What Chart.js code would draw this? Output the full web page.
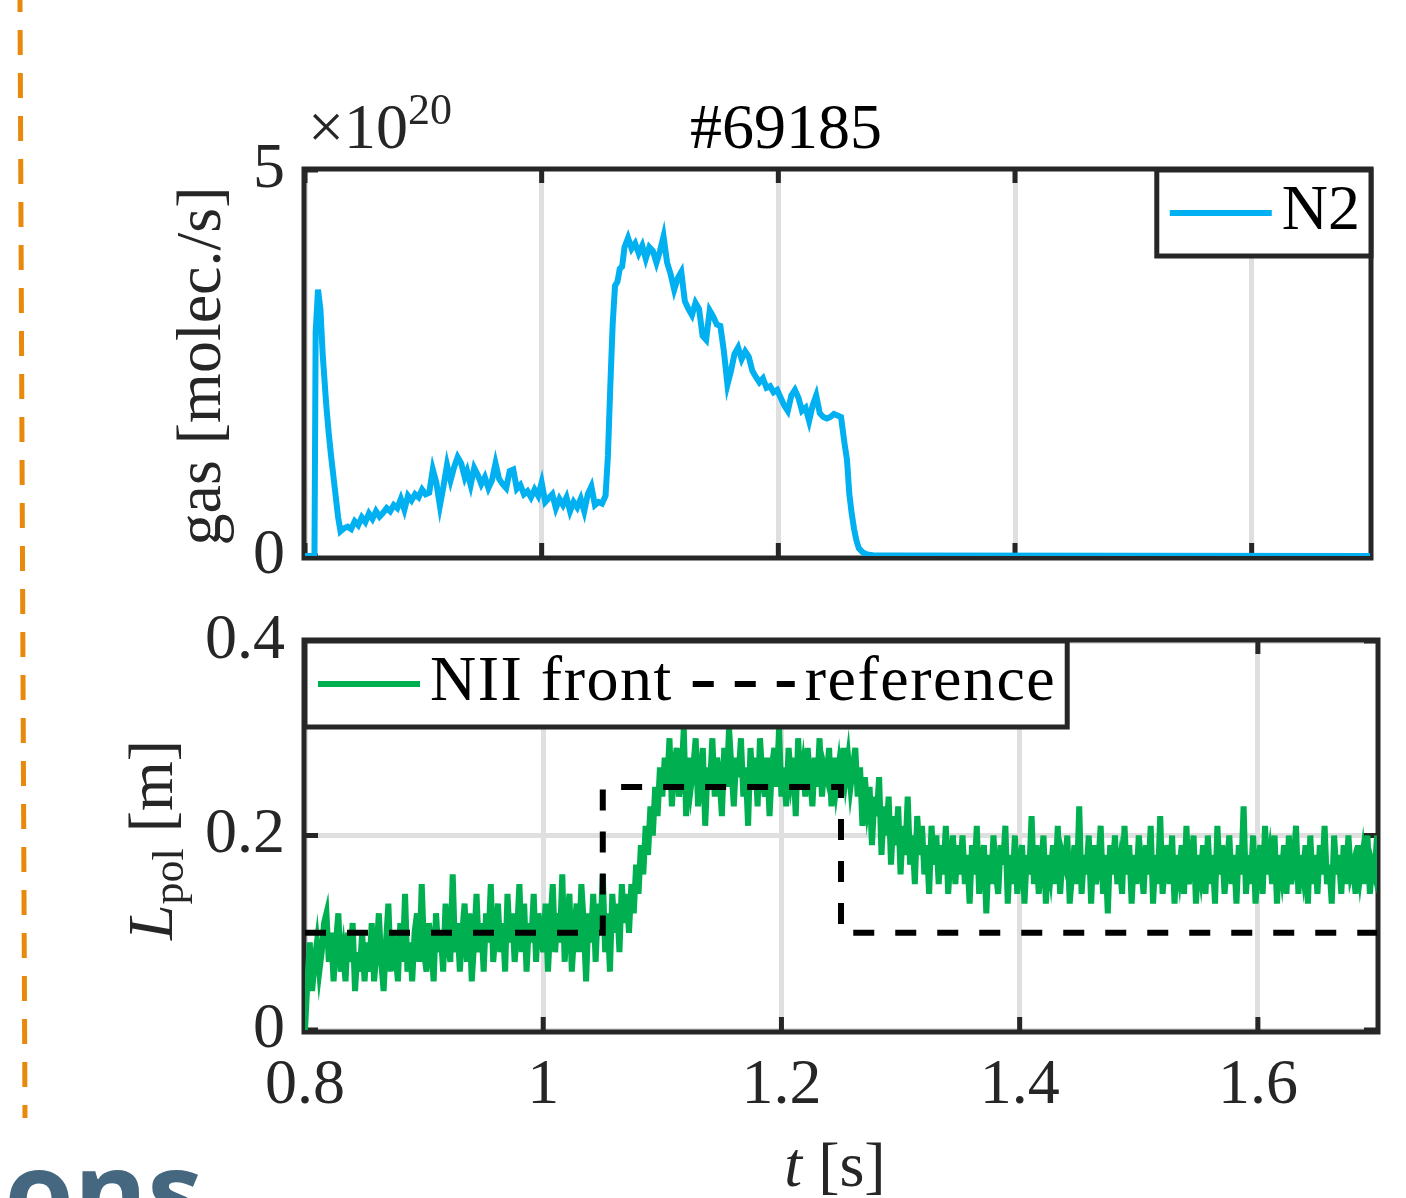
<!DOCTYPE html>
<html>
<head>
<meta charset="utf-8">
<script src="https://cdn.jsdelivr.net/npm/chart.js@4.4.1/dist/chart.umd.min.js"></script>
<style>
  html, body { margin: 0; padding: 0; background: #fff; overflow: hidden; }
  #wrap { position: relative; width: 1406px; height: 1198px; }
  #wrap canvas { position: absolute; left: 0; top: 0; }
</style>
</head>
<body>
<div id="wrap">
  <canvas id="gasChart" width="1406" height="1198"></canvas>
  <canvas id="lpolChart" width="1406" height="1198"></canvas>
</div>
<script>
// ---- data ----
const shotTitle = '#69185';

const xTicks = [0.8, 1.0, 1.2, 1.4, 1.6];
const xTickLabels = ['0.8', '1', '1.2', '1.4', '1.6'];
const gasTicks = [0, 5];
const gasTickLabels = ['0', '5'];
const lpolTicks = [0, 0.2, 0.4];
const lpolTickLabels = ['0', '0.2', '0.4'];

// N2 puff rate [1e20 molec./s]
const n2Time = [
  0.800, 0.808, 0.809, 0.811, 0.813, 0.815, 0.818, 0.820, 0.822, 0.825,
  0.828, 0.830, 0.833, 0.836, 0.839, 0.842, 0.845, 0.848, 0.851, 0.854,
  0.857, 0.860, 0.863, 0.866, 0.869, 0.872, 0.875, 0.878, 0.881, 0.884,
  0.887, 0.890, 0.893, 0.896, 0.899, 0.902, 0.905, 0.908, 0.911, 0.914,
  0.917, 0.920, 0.923, 0.926, 0.929, 0.932, 0.935, 0.937, 0.940, 0.943,
  0.946, 0.949, 0.952, 0.955, 0.958, 0.961, 0.964, 0.967, 0.970, 0.973,
  0.976, 0.979, 0.982, 0.985, 0.988, 0.991, 0.994, 0.997, 1.000, 1.003,
  1.006, 1.009, 1.012, 1.015, 1.018, 1.021, 1.024, 1.027, 1.030, 1.033,
  1.036, 1.039, 1.042, 1.045, 1.048, 1.051, 1.054, 1.056, 1.058, 1.060,
  1.062, 1.064, 1.066, 1.068, 1.070, 1.073, 1.076, 1.079, 1.082, 1.085,
  1.088, 1.091, 1.094, 1.097, 1.100, 1.103, 1.106, 1.109, 1.112, 1.115,
  1.118, 1.121, 1.124, 1.127, 1.130, 1.133, 1.136, 1.139, 1.142, 1.145,
  1.148, 1.151, 1.154, 1.157, 1.160, 1.163, 1.166, 1.169, 1.172, 1.175,
  1.178, 1.181, 1.184, 1.187, 1.190, 1.193, 1.196, 1.199, 1.202, 1.205,
  1.208, 1.211, 1.214, 1.217, 1.220, 1.223, 1.226, 1.229, 1.232, 1.235,
  1.238, 1.241, 1.244, 1.247, 1.250, 1.253, 1.256, 1.258, 1.260, 1.262,
  1.264, 1.266, 1.268, 1.271, 1.275, 1.280, 1.300, 1.700
];
const n2Values = [
  0.00, 0.00, 2.90, 3.45, 3.20, 2.60, 1.95, 1.60, 1.30, 0.90,
  0.50, 0.32, 0.36, 0.38, 0.35, 0.45, 0.40, 0.50, 0.44, 0.55,
  0.48, 0.58, 0.51, 0.56, 0.62, 0.58, 0.66, 0.62, 0.74, 0.60,
  0.78, 0.72, 0.80, 0.76, 0.86, 0.80, 0.82, 1.12, 0.95, 0.65,
  0.90, 1.18, 0.98, 1.15, 1.28, 1.20, 1.02, 1.10, 0.92, 1.14,
  1.05, 0.93, 1.02, 0.88, 0.98, 1.20, 1.00, 0.93, 0.88, 1.10,
  1.12, 0.87, 0.92, 0.80, 0.84, 0.76, 0.86, 0.78, 0.95, 0.70,
  0.75, 0.80, 0.62, 0.74, 0.66, 0.76, 0.58, 0.70, 0.63, 0.74,
  0.58, 0.80, 0.90, 0.66, 0.70, 0.68, 0.78, 1.30, 2.20, 3.00,
  3.50, 3.55, 3.72, 3.75, 4.00, 4.12, 3.98, 4.05, 3.92, 4.02,
  3.85, 4.00, 3.95, 3.80, 3.95, 4.14, 3.80, 3.65, 3.45, 3.60,
  3.68, 3.30, 3.20, 3.12, 3.28, 3.20, 2.85, 2.80, 3.18, 3.10,
  3.00, 2.98, 2.65, 2.22, 2.40, 2.62, 2.70, 2.55, 2.65, 2.58,
  2.40, 2.32, 2.25, 2.30, 2.18, 2.20, 2.12, 2.15, 2.05, 1.95,
  1.88, 2.08, 2.15, 2.05, 1.88, 1.92, 1.75, 1.95, 2.08, 1.85,
  1.80, 1.78, 1.80, 1.84, 1.82, 1.80, 1.45, 1.25, 0.80, 0.55,
  0.35, 0.20, 0.10, 0.05, 0.02, 0.01, 0.005, 0.00
];

// NII front position L_pol [m], sampled every 2 ms from 0.8 s to 1.7 s
const niiStart = 0.8;
const niiStep = 0.002;
const niiValues = [
  // 0.800 - 0.850
  0.00, 0.05, 0.09, 0.04, 0.07, 0.09, 0.06, 0.08, 0.11, 0.12,
  0.07, 0.10, 0.05, 0.09, 0.12, 0.06, 0.08, 0.05, 0.10, 0.07,
  0.11, 0.04, 0.08, 0.06, 0.10, 0.05,
  // 0.852 - 1.000
  0.09, 0.06, 0.11, 0.05, 0.08, 0.12, 0.07, 0.04, 0.09, 0.13,
  0.06, 0.10, 0.08, 0.05, 0.11, 0.07, 0.14, 0.06, 0.09, 0.05,
  0.10, 0.12, 0.07, 0.15, 0.08, 0.06, 0.11, 0.09, 0.05, 0.12,
  0.08, 0.10, 0.06, 0.13, 0.09, 0.07, 0.16, 0.08, 0.11, 0.06,
  0.10, 0.13, 0.07, 0.12, 0.05, 0.09, 0.14, 0.08, 0.11, 0.06,
  0.12, 0.09, 0.15, 0.07, 0.10, 0.13, 0.08, 0.11, 0.06, 0.14,
  0.09, 0.12, 0.07, 0.10, 0.15, 0.08, 0.13, 0.06, 0.11, 0.09,
  0.14, 0.07, 0.12, 0.10, 0.08,
  // 1.002 - 1.070
  0.13, 0.06, 0.11, 0.15, 0.08, 0.12, 0.09, 0.16, 0.07, 0.11,
  0.14, 0.06, 0.10, 0.13, 0.08, 0.15, 0.11, 0.05, 0.12, 0.09,
  0.14, 0.07, 0.13, 0.10, 0.16, 0.08, 0.12, 0.06, 0.14, 0.10,
  0.13, 0.08, 0.15, 0.11, 0.14,
  // 1.072 - 1.100
  0.10, 0.15, 0.12, 0.17, 0.14, 0.19, 0.16, 0.21, 0.18, 0.23,
  0.20, 0.25, 0.22, 0.27, 0.24,
  // 1.102 - 1.260
  0.28, 0.25, 0.30, 0.23, 0.27, 0.29, 0.24, 0.26, 0.31, 0.22,
  0.28, 0.25, 0.27, 0.30, 0.23, 0.26, 0.29, 0.21, 0.27, 0.25,
  0.30, 0.24, 0.28, 0.26, 0.22, 0.29, 0.25, 0.31, 0.27, 0.23,
  0.28, 0.26, 0.30, 0.24, 0.27, 0.21, 0.29, 0.25, 0.28, 0.23,
  0.30, 0.26, 0.24, 0.28, 0.22, 0.27, 0.29, 0.25, 0.31, 0.24,
  0.27, 0.23, 0.29, 0.26, 0.28, 0.22, 0.30, 0.25, 0.27, 0.24,
  0.29, 0.26, 0.23, 0.28, 0.25, 0.30, 0.24, 0.27, 0.26, 0.29,
  0.23, 0.28, 0.25, 0.27, 0.24, 0.29, 0.26, 0.28, 0.25, 0.27,
  // 1.262 - 1.350
  0.29, 0.24, 0.27, 0.21, 0.26, 0.23, 0.25, 0.19, 0.24, 0.22,
  0.26, 0.18, 0.23, 0.20, 0.24, 0.17, 0.22, 0.19, 0.23, 0.16,
  0.21, 0.18, 0.24, 0.17, 0.20, 0.15, 0.22, 0.18, 0.21, 0.16,
  0.19, 0.14, 0.21, 0.17, 0.20, 0.15, 0.19, 0.16, 0.21, 0.14,
  0.18, 0.20, 0.15, 0.19, 0.16,
  // 1.352 - 1.700
  0.20, 0.15, 0.18, 0.13, 0.19, 0.16, 0.21, 0.14, 0.17, 0.19,
  0.12, 0.18, 0.15, 0.20, 0.16, 0.14, 0.19, 0.17, 0.21, 0.13,
  0.18, 0.15, 0.20, 0.14, 0.17, 0.19, 0.13, 0.18, 0.16, 0.22,
  0.15, 0.19, 0.14, 0.17, 0.20, 0.13, 0.18, 0.16, 0.19, 0.15,
  0.21, 0.14, 0.18, 0.17, 0.20, 0.13, 0.16, 0.19, 0.15, 0.23,
  0.14, 0.18, 0.16, 0.20, 0.13, 0.19, 0.15, 0.17, 0.21, 0.14,
  0.18, 0.12, 0.19, 0.16, 0.20, 0.15, 0.17, 0.14, 0.21, 0.16,
  0.19, 0.13, 0.18, 0.15, 0.20, 0.17, 0.14, 0.19, 0.16, 0.21,
  0.13, 0.18, 0.15, 0.22, 0.14, 0.17, 0.19, 0.15, 0.20, 0.13,
  0.18, 0.16, 0.19, 0.14, 0.21, 0.15, 0.17, 0.20, 0.13, 0.18,
  0.16, 0.19, 0.14, 0.20, 0.15, 0.18, 0.13, 0.21, 0.16, 0.19,
  0.14, 0.17, 0.20, 0.15, 0.18, 0.13, 0.19, 0.16, 0.23, 0.14,
  0.18, 0.15, 0.20, 0.13, 0.17, 0.19, 0.14, 0.21, 0.16, 0.18,
  0.15, 0.20, 0.13, 0.18, 0.16, 0.19, 0.14, 0.20, 0.15, 0.17,
  0.21, 0.14, 0.18, 0.16, 0.19, 0.13, 0.20, 0.15, 0.18, 0.14,
  0.19, 0.16, 0.21, 0.15, 0.17, 0.13, 0.20, 0.16, 0.18, 0.14,
  0.19, 0.15, 0.20, 0.16, 0.17, 0.14, 0.19, 0.16, 0.18, 0.15,
  0.20, 0.14, 0.17, 0.16, 0.20
];

// reference (setpoint) steps
const refTime = [0.8, 1.05, 1.05, 1.25, 1.25, 1.7];
const refValues = [0.1, 0.1, 0.25, 0.25, 0.1, 0.1];

// ---- styling ----
const serif = '"Liberation Serif", "DejaVu Serif", serif';
const axisColor = '#262626';
const gridColor = '#dfdfdf';
const fontSize = 64;
const subSize = 44;

Chart.defaults.font.family = serif;
Chart.defaults.color = axisColor;

function pts(xs, ys) {
  return ys.map((v, i) => ({ x: xs[i], y: v }));
}
const niiPoints = niiValues.map((v, i) => ({ x: niiStart + i * niiStep, y: v }));

function fixTicks(list) {
  return function(scale) { scale.ticks = list.map(v => ({ value: v })); };
}

// draw a run of text pieces (normal / italic / subscript) starting at x,y
function drawPieces(ctx, pieces, x, y, align) {
  let total = 0;
  pieces.forEach(p => { ctx.font = p.font; p.w = ctx.measureText(p.text).width; total += p.w; });
  let cx = align === 'center' ? x - total / 2 : x;
  ctx.textAlign = 'left';
  ctx.textBaseline = 'alphabetic';
  pieces.forEach(p => {
    ctx.font = p.font;
    ctx.fillText(p.text, cx, y + (p.dy || 0));
    cx += p.w;
  });
}

// frame + inward tick marks, drawn under the lines
const axesBox = {
  id: 'axesBox',
  beforeDatasetsDraw(chart) {
    const { ctx, chartArea: a, scales: { x, y } } = chart;
    ctx.save();
    ctx.strokeStyle = axisColor;
    ctx.lineWidth = 5;
    ctx.setLineDash([]);
    ctx.beginPath();
    x.ticks.forEach(t => {
      const px = x.getPixelForValue(t.value);
      ctx.moveTo(px, a.bottom); ctx.lineTo(px, a.bottom - 13);
      ctx.moveTo(px, a.top); ctx.lineTo(px, a.top + 13);
    });
    y.ticks.forEach(t => {
      const py = y.getPixelForValue(t.value);
      ctx.moveTo(a.left, py); ctx.lineTo(a.left + 13, py);
      ctx.moveTo(a.right, py); ctx.lineTo(a.right - 13, py);
    });
    ctx.stroke();
    ctx.strokeRect(a.left - 1, a.top - 1, a.right - a.left + 2, a.bottom - a.top + 3);
    ctx.restore();
  }
};

// boxed legend inside the axes, like the MATLAB one
const boxLegend = {
  id: 'boxLegend',
  afterDatasetsDraw(chart, args, opts) {
    const { ctx, chartArea: a } = chart;
    const items = chart.data.datasets;
    const padL = 13, lineLen = 102, gapText = 10, gapItem = 20, padR = 11, h = 86;
    ctx.save();
    ctx.font = fontSize + 'px ' + serif;
    ctx.letterSpacing = (opts.spacing || 0) + 'px';
    let w = padL + padR;
    items.forEach((d, i) => {
      w += lineLen + gapText + ctx.measureText(d.label).width + (i ? gapItem : 0);
    });
    const left = opts.side === 'right' ? a.right + 1 - w : a.left;
    const top = a.top;
    ctx.fillStyle = '#fff';
    ctx.fillRect(left, top, w, h);
    ctx.lineWidth = 5;
    ctx.strokeStyle = axisColor;
    ctx.strokeRect(left, top, w, h);
    let cx = left + padL;
    const cy = top + 43;
    items.forEach((d, i) => {
      if (i) cx += gapItem;
      ctx.beginPath();
      ctx.setLineDash(d.borderDash || []);
      ctx.strokeStyle = d.borderColor;
      ctx.lineWidth = d.borderWidth;
      ctx.moveTo(cx, cy);
      ctx.lineTo(cx + lineLen, cy);
      ctx.stroke();
      ctx.setLineDash([]);
      cx += lineLen + gapText;
      ctx.fillStyle = '#000';
      ctx.textAlign = 'left';
      ctx.textBaseline = 'alphabetic';
      ctx.fillText(d.label, cx, cy + 16);
      cx += ctx.measureText(d.label).width;
    });
    ctx.restore();
  }
};

// page decorations and the texts of the upper panel
const gasDecor = {
  id: 'gasDecor',
  beforeDraw(chart) {
    const ctx = chart.ctx;
    ctx.save();
    ctx.strokeStyle = '#e8890c';
    ctx.lineWidth = 5;
    ctx.setLineDash([25, 18]);
    ctx.lineDashOffset = 13;
    ctx.beginPath();
    ctx.moveTo(20, 0);
    ctx.lineTo(25, 1118);
    ctx.stroke();
    ctx.restore();

    ctx.save();
    ctx.fillStyle = '#45677f';
    ctx.font = 'bold 112px "Open Sans", "Noto Sans", sans-serif';
    ctx.textAlign = 'right';
    ctx.textBaseline = 'alphabetic';
    ctx.fillText('ons', 203, 1232);
    ctx.restore();
  },
  afterDraw(chart) {
    const ctx = chart.ctx;
    ctx.save();
    ctx.fillStyle = '#000';
    ctx.font = fontSize + 'px ' + serif;
    ctx.textAlign = 'center';
    ctx.textBaseline = 'alphabetic';
    ctx.fillText(shotTitle, 786, 148);
    ctx.fillStyle = axisColor;
    drawPieces(ctx, [
      { text: '\u00d710', font: fontSize + 'px ' + serif },
      { text: '20', font: subSize + 'px ' + serif, dy: -24 }
    ], 308, 148, 'left');
    ctx.translate(220, 366);
    ctx.rotate(-Math.PI / 2);
    drawPieces(ctx, [{ text: 'gas [molec./s]', font: fontSize + 'px ' + serif }], 0, 0, 'center');
    ctx.restore();
  }
};

const lpolDecor = {
  id: 'lpolDecor',
  afterDraw(chart) {
    const ctx = chart.ctx;
    ctx.save();
    ctx.fillStyle = axisColor;
    drawPieces(ctx, [
      { text: 't', font: 'italic ' + fontSize + 'px ' + serif },
      { text: ' [s]', font: fontSize + 'px ' + serif }
    ], 835, 1186, 'center');
    ctx.translate(172, 840);
    ctx.rotate(-Math.PI / 2);
    drawPieces(ctx, [
      { text: 'L', font: 'italic ' + fontSize + 'px ' + serif },
      { text: 'pol', font: subSize + 'px ' + serif, dy: 11 },
      { text: ' [m]', font: fontSize + 'px ' + serif }
    ], 0, 0, 'center');
    ctx.restore();
  }
};

const tickFont = { family: serif, size: fontSize };

new Chart(document.getElementById('gasChart'), {
  type: 'line',
  data: {
    datasets: [{
      label: 'N2',
      data: pts(n2Time, n2Values),
      borderColor: '#00b0f0',
      borderWidth: 6,
      pointRadius: 0,
      tension: 0
    }]
  },
  options: {
    responsive: false,
    animation: false,
    events: [],
    layout: { padding: { left: 0, top: 170, right: 36, bottom: 632 } },
    plugins: {
      legend: { display: false },
      tooltip: { enabled: false },
      boxLegend: { side: 'right' }
    },
    scales: {
      x: {
        type: 'linear', min: 0.8, max: 1.7,
        afterBuildTicks: fixTicks(xTicks),
        ticks: { display: false },
        grid: { color: gridColor, lineWidth: 5, drawTicks: false },
        border: { display: false },
        afterFit(s) { s.height = 10; }
      },
      y: {
        type: 'linear', min: 0, max: 5,
        afterBuildTicks: fixTicks(gasTicks),
        ticks: { font: tickFont, color: axisColor, padding: 20, callback: (v, i) => gasTickLabels[i] },
        grid: { display: false, drawTicks: false },
        border: { display: false },
        afterFit(s) { s.width = 305; }
      }
    }
  },
  plugins: [gasDecor, axesBox, boxLegend]
});

new Chart(document.getElementById('lpolChart'), {
  type: 'line',
  data: {
    datasets: [{
      label: 'NII front',
      data: niiPoints,
      borderColor: '#00b050',
      borderWidth: 6,
      pointRadius: 0,
      tension: 0,
      order: 1
    }, {
      label: 'reference',
      data: pts(refTime, refValues),
      borderColor: '#000000',
      borderWidth: 6,
      borderDash: [21, 21],
      pointRadius: 0,
      tension: 0,
      order: 0
    }]
  },
  options: {
    responsive: false,
    animation: false,
    events: [],
    layout: { padding: { left: 0, top: 641, right: 29, bottom: 0 } },
    plugins: {
      legend: { display: false },
      tooltip: { enabled: false },
      boxLegend: { side: 'left', spacing: 1.5 }
    },
    scales: {
      x: {
        type: 'linear', min: 0.8, max: 1.7,
        afterBuildTicks: fixTicks(xTicks),
        ticks: { font: tickFont, color: axisColor, padding: 18, autoSkip: false, maxRotation: 0,
                 callback: (v, i) => xTickLabels[i] },
        grid: { color: gridColor, lineWidth: 5, drawTicks: false },
        border: { display: false },
        afterFit(s) { s.height = 168; }
      },
      y: {
        type: 'linear', min: 0, max: 0.4,
        afterBuildTicks: fixTicks(lpolTicks),
        ticks: { font: tickFont, color: axisColor, padding: 20, callback: (v, i) => lpolTickLabels[i] },
        grid: { color: gridColor, lineWidth: 5, drawTicks: false },
        border: { display: false },
        afterFit(s) { s.width = 305; }
      }
    }
  },
  plugins: [lpolDecor, axesBox, boxLegend]
});
</script>
</body>
</html>
